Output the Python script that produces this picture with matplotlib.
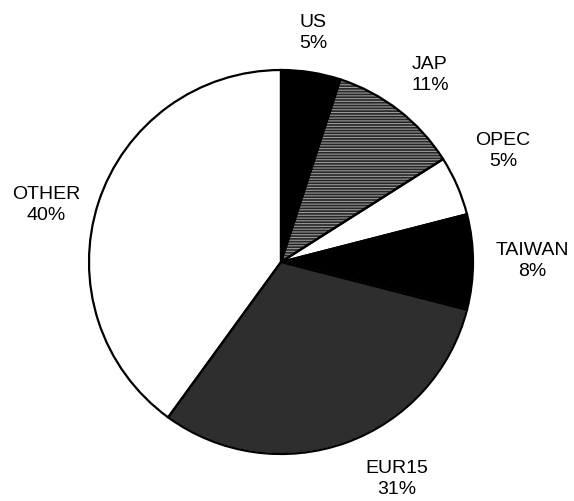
import matplotlib.pyplot as plt

plt.rcParams['font.family'] = ['Liberation Sans', 'DejaVu Sans']
plt.rcParams['hatch.linewidth'] = 0.8

regions = ["US", "JAP", "OPEC", "TAIWAN", "EUR15", "OTHER"]
shares = [5, 11, 5, 8, 31, 40]

# styling / layout (pixel coords, y downward)
face = ["black", "#262626", "white", "black", "#2e2e2e", "white"]
hatch = [None, "------", None, None, None, None]
hatch_col = ["black", "#9a9a9a", "black", "black", "#d8d8d8", "black"]
label_xy = [(313, 33), (430, 75), (503, 151), (532, 261), (397, 479), (46, 205)]
cx, cy, r = 281, 263, 192

fig = plt.figure(figsize=(5.74, 5.02), dpi=100)
ax = fig.add_axes([0, 0, 1, 1])

wedges, _ = ax.pie(shares, colors=face, center=(cx, cy), radius=r,
                   startangle=-90, counterclock=True,
                   wedgeprops=dict(linewidth=0))
for w, h, hc in zip(wedges, hatch, hatch_col):
    w.set_edgecolor(hc)
    if h:
        w.set_hatch(h)
# thin light inner edge on EUR15
wedges[4].set_linewidth(1.2)
wedges[4].set_edgecolor("#e0e0e0")

# outlines
ax.pie(shares, colors=["none"] * len(shares), center=(cx, cy), radius=r,
       startangle=-90, counterclock=True,
       wedgeprops=dict(linewidth=1.6, edgecolor="black", fill=False))

for name, val, (x, y) in zip(regions, shares, label_xy):
    ax.text(x, y, f"{name}\n{val}%", ha="center", va="center",
            fontsize=14, linespacing=1.28)

ax.set_xlim(0, 574)
ax.set_ylim(502, 0)
ax.set_aspect("equal")
ax.axis("off")

plt.savefig("out.png", dpi=100)
